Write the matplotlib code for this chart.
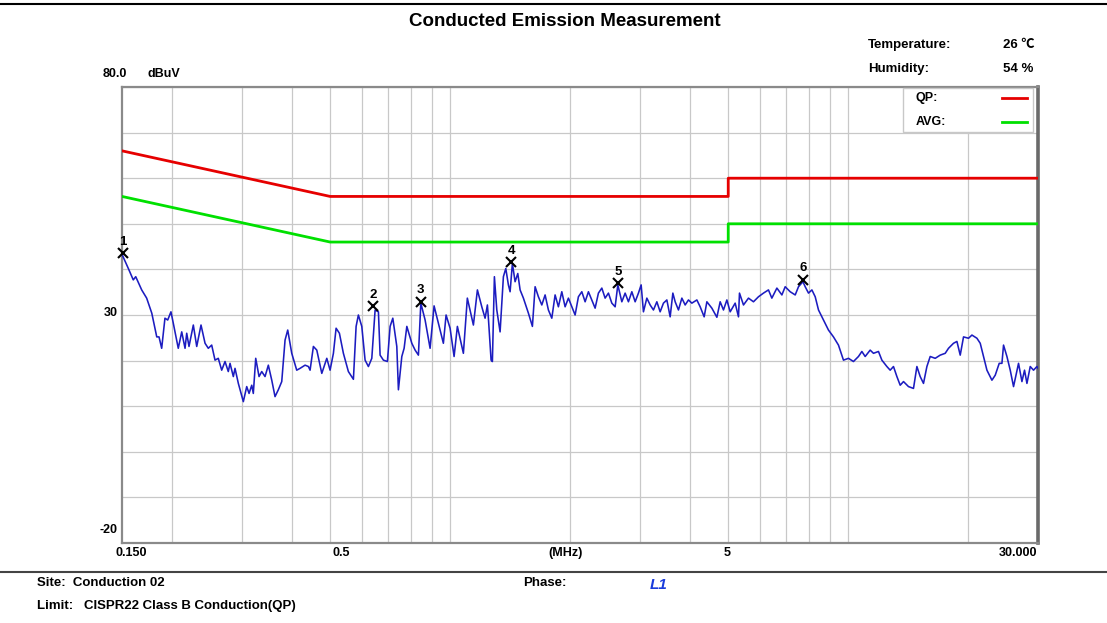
import numpy as np
import matplotlib
matplotlib.use("Agg")
import matplotlib.pyplot as plt
from matplotlib.lines import Line2D
from matplotlib.patches import Rectangle

plt.rcParams['font.family'] = ['Liberation Sans', 'DejaVu Sans']

# Limit lines (CISPR22 class B)
limit_freq = [0.15, 0.5, 5.0, 5.0, 30.0]
qp_limit = [66, 56, 56, 60, 60]
avg_limit = [56, 46, 46, 50, 50]

trace_freq = [
    0.150, 0.1556, 0.1601, 0.1624, 0.1681, 0.1730, 0.1782, 0.1834, 0.1858, 0.1887,
    0.1923, 0.1954, 0.1991, 0.2018, 0.2077, 0.2119, 0.2160, 0.2181, 0.2210, 0.2266,
    0.2311, 0.2369, 0.2425, 0.2471, 0.2520, 0.2569, 0.2618, 0.2670, 0.2722, 0.2774,
    0.2802, 0.2856, 0.2884, 0.2940, 0.3026, 0.3086, 0.3128, 0.3177, 0.3206, 0.3251,
    0.3314, 0.3366, 0.3431, 0.3497, 0.3567, 0.3635, 0.3705, 0.3779, 0.3852, 0.3912,
    0.4004, 0.4121, 0.4201, 0.4325, 0.4409, 0.4452, 0.4538, 0.4628, 0.4764, 0.4904,
    0.4998, 0.5095, 0.5175, 0.5275, 0.5398, 0.5556, 0.5720, 0.5810, 0.5887, 0.6004,
    0.6120, 0.6238, 0.6362, 0.6485, 0.6610, 0.6675, 0.6804, 0.6963, 0.7073, 0.7184,
    0.7352, 0.7421, 0.7568, 0.7670, 0.7791, 0.8019, 0.8174, 0.8331, 0.8448, 0.8660,
    0.8913, 0.9121, 0.9444, 0.9625, 0.9777, 1.0006, 1.0240, 1.0437, 1.0806, 1.1056,
    1.1450, 1.1719, 1.2020, 1.2251, 1.2416, 1.2488, 1.2684, 1.2780, 1.2929, 1.3110,
    1.3362, 1.3620, 1.3810, 1.4019, 1.4158, 1.4347, 1.4573, 1.4803, 1.5002, 1.5291,
    1.5740, 1.6108, 1.6362, 1.6677, 1.7008, 1.7336, 1.7670, 1.8021, 1.8368, 1.8722,
    1.9094, 1.9462, 1.9837, 2.0232, 2.0622, 2.1019, 2.1437, 2.1851, 2.2272, 2.2715,
    2.3152, 2.3598, 2.4068, 2.4531, 2.5005, 2.5501, 2.5993, 2.6402, 2.7020, 2.7541,
    2.8071, 2.8631, 2.9183, 2.9745, 3.0214, 3.0618, 3.1226, 3.1828, 3.2442, 3.3087,
    3.3725, 3.4375, 3.5058, 3.5734, 3.6297, 3.6783, 3.7492, 3.8237, 3.8974, 3.9725,
    4.0515, 4.1704, 4.2508, 4.3503, 4.4189, 4.5485, 4.6819, 4.7722, 4.8642, 4.9609,
    5.0564, 5.2048, 5.3054, 5.3363, 5.4612, 5.6214, 5.7860, 5.9558, 6.1306, 6.3096,
    6.4349, 6.6251, 6.8196, 6.9511, 7.1551, 7.3653, 7.5072, 7.7008, 7.8040, 7.9545,
    8.1125, 8.2689, 8.4283, 8.6752, 8.9280, 9.1903, 9.4599, 9.7375, 10.023, 10.317,
    10.620, 10.831, 11.040, 11.364, 11.583, 11.923, 12.160, 12.517, 12.758, 13.004,
    13.263, 13.519, 13.780, 14.184, 14.600, 14.890, 15.177, 15.470, 15.777, 16.082,
    16.554, 17.040, 17.540, 17.879, 18.403, 18.769, 19.131, 19.500, 20.072, 20.471,
    21.072, 21.478, 21.892, 22.327, 22.982, 23.425, 23.973, 24.351, 24.577, 25.065,
    25.548, 26.041, 26.805, 27.337, 27.752, 28.140, 28.683, 29.236, 29.816, 30.000,
]
trace_level = [
    43.3, 40.2, 37.7, 38.4, 35.5, 33.7, 30.4, 25.2, 25.2, 22.7,
    29.3, 28.9, 30.7, 28.2, 22.7, 26.3, 22.7, 26.0, 23.1, 27.8,
    23.1, 27.8, 23.8, 22.7, 23.4, 20.1, 20.5, 17.9, 19.8, 17.6,
    19.4, 16.5, 18.3, 15.0, 11.0, 14.3, 12.8, 14.6, 12.8, 20.5,
    16.5, 17.6, 16.5, 19.0, 15.7, 12.1, 13.6, 15.4, 24.5, 26.7,
    21.6, 17.9, 18.3, 19.0, 18.7, 17.9, 23.1, 22.3, 17.2, 20.5,
    17.9, 21.6, 27.1, 26.0, 21.6, 17.6, 15.9, 27.5, 30.0, 27.5,
    20.1, 18.7, 20.5, 31.1, 30.7, 21.2, 20.1, 19.8, 27.5, 29.3,
    23.1, 13.6, 20.9, 22.7, 27.5, 23.8, 22.3, 21.2, 32.6, 28.9,
    22.7, 32.0, 26.7, 23.8, 30.0, 27.1, 20.9, 27.5, 21.6, 33.7,
    27.8, 35.5, 31.8, 29.3, 32.2, 29.3, 20.1, 19.8, 38.4, 31.1,
    26.3, 38.4, 40.2, 36.6, 35.1, 41.3, 37.3, 39.1, 35.5, 33.7,
    30.4, 27.5, 36.2, 34.0, 32.2, 34.4, 31.1, 29.3, 34.4, 31.8,
    35.1, 31.8, 33.7, 31.8, 30.0, 34.0, 35.1, 32.9, 35.1, 33.3,
    31.5, 34.8, 35.9, 33.7, 34.8, 32.6, 31.8, 36.6, 32.9, 34.8,
    32.9, 35.1, 32.9, 34.8, 36.6, 30.7, 33.7, 32.2, 31.1, 32.9,
    30.7, 32.6, 33.3, 29.6, 34.8, 32.9, 31.1, 33.7, 32.2, 33.3,
    32.6, 33.3, 31.8, 29.6, 32.9, 31.5, 29.5, 32.9, 31.1, 33.3,
    30.7, 32.6, 29.6, 34.8, 32.2, 33.7, 32.9, 34.0, 34.8, 35.5,
    33.7, 35.9, 34.4, 36.2, 35.1, 34.4, 36.2, 37.3, 36.2, 34.8,
    35.5, 34.0, 31.1, 28.9, 26.7, 25.2, 23.4, 20.1, 20.5, 19.8,
    20.9, 22.0, 20.9, 22.3, 21.6, 22.0, 20.1, 18.7, 17.9, 18.7,
    16.5, 14.6, 15.4, 14.3, 13.9, 18.7, 16.5, 15.0, 18.7, 20.9,
    20.5, 21.2, 21.6, 22.7, 23.8, 24.2, 21.2, 25.2, 24.9, 25.6,
    24.9, 23.8, 20.9, 17.9, 15.7, 16.8, 19.4, 19.4, 23.4, 20.9,
    17.9, 14.3, 19.4, 15.4, 17.9, 15.0, 18.7, 17.9, 18.7, 18.3,
]

# Marked peaks
peak_no = ["1", "2", "3", "4", "5", "6"]
peak_freq = [0.1511, 0.642, 0.845, 1.424, 2.640, 7.701]
peak_level = [43.5, 31.9, 32.9, 41.6, 37.0, 37.7]

legend_names = ['QP:', 'AVG:']
legend_colors = ['#e60000', '#00e000']

W, H = 1107, 623
fig = plt.figure(figsize=(W / 100, H / 100), dpi=100)
fig.patch.set_facecolor('white')


def px(x, y):
    # pixel position -> figure fraction
    return x / W, 1 - y / H


ax = fig.add_axes([122 / W, 1 - 543 / H, (1038 - 122) / W, (543 - 87) / H])
ax.set_xscale('log')
ax.set_xlim(0.15, 30)
ax.set_ylim(-20, 80)
ax.set_yticks(np.arange(-20, 81, 10))
ax.set_xticks([1, 10])
ax.set_xticks([0.2, 0.3, 0.4, 0.5, 0.6, 0.7, 0.8, 0.9, 2, 3, 4, 5, 6, 7, 8, 9, 20], minor=True)
ax.grid(True, which='both', color='#c8c8c8', linewidth=0.9)
ax.set_axisbelow(True)
ax.tick_params(which='both', length=0, labelbottom=False, labelleft=False)
for s in ['left', 'bottom', 'top']:
    ax.spines[s].set_color('#8a8a8a')
    ax.spines[s].set_linewidth(1.6)
ax.spines['right'].set_color('#6a6a6a')
ax.spines['right'].set_linewidth(2.6)

ax.plot(trace_freq, trace_level, color='#1c1cc0', linewidth=1.15, zorder=3)
ax.plot(limit_freq, qp_limit, color=legend_colors[0], linewidth=2.0, zorder=4)
ax.plot(limit_freq, avg_limit, color=legend_colors[1], linewidth=2.0, zorder=4)

ax.plot(peak_freq, peak_level, linestyle='none', marker='x', color='black',
        markersize=7, markeredgewidth=1.5, zorder=5, clip_on=False)
for n, f, v in zip(peak_no, peak_freq, peak_level):
    ax.annotate(n, (f, v), xytext=(0, 4), textcoords='offset points',
                ha='center', va='bottom', fontsize=9.5, fontweight='bold')

# legend box drawn by hand (labels left, line samples right)
x0, y0 = px(903, 132)
x1, y1 = px(1033, 88)
fig.add_artist(Rectangle((x0, y0), x1 - x0, y1 - y0, facecolor='white',
                         edgecolor='#c8c8c8', linewidth=1.0, zorder=6))
for i, (name, c) in enumerate(zip(legend_names, legend_colors)):
    yy = 98 + i * 24
    fig.text(*px(916, yy), name, ha='left', va='center', fontsize=9,
             fontweight='bold', zorder=7)
    fig.add_artist(Line2D([1002 / W, 1027 / W], [1 - yy / H, 1 - yy / H],
                          color=c, linewidth=2, zorder=7))

# header and footer rules
fig.add_artist(Line2D([0, 1], [1 - 4 / H, 1 - 4 / H], color='black', linewidth=1.5))
fig.add_artist(Line2D([0, 1], [1 - 572 / H, 1 - 572 / H], color='#444444', linewidth=1.5))

fig.text(*px(565, 22), 'Conducted Emission Measurement', ha='center', va='center',
         fontsize=13.5, fontweight='bold')
fig.text(*px(868, 45), 'Temperature:', ha='left', va='center', fontsize=9.5, fontweight='bold')
fig.text(*px(1003, 45), '26 ℃', ha='left', va='center', fontsize=9.5, fontweight='bold',
         family=['Liberation Sans', 'Noto Sans CJK SC', 'DejaVu Sans'])
fig.text(*px(868, 69), 'Humidity:', ha='left', va='center', fontsize=9.5, fontweight='bold')
fig.text(*px(1003, 69), '54 %', ha='left', va='center', fontsize=9.5, fontweight='bold')

# axis labels placed like the instrument software does
fig.text(*px(127, 74), '80.0', ha='right', va='center', fontsize=9, fontweight='bold')
fig.text(*px(148, 74), 'dBuV', ha='left', va='center', fontsize=9, fontweight='bold')
fig.text(*px(118, 313), '30', ha='right', va='center', fontsize=9, fontweight='bold')
fig.text(*px(118, 530), '-20', ha='right', va='center', fontsize=9, fontweight='bold')
for lab, xc in [('0.150', 131), ('0.5', 341), ('(MHz)', 566), ('5', 727), ('30.000', 1018)]:
    fig.text(*px(xc, 553), lab, ha='center', va='center', fontsize=9, fontweight='bold')

fig.text(*px(37, 583), 'Site:  Conduction 02', ha='left', va='center', fontsize=9.5, fontweight='bold')
fig.text(*px(523, 583), 'Phase:', ha='left', va='center', fontsize=9.5, fontweight='bold')
fig.text(*px(650, 585), 'L1', ha='left', va='center', fontsize=11, fontweight='bold',
         style='italic', color='#1a3cdc')
fig.text(*px(37, 606), 'Limit:   CISPR22 Class B Conduction(QP)', ha='left', va='center',
         fontsize=9.5, fontweight='bold')

fig.savefig('out.png', dpi=100, facecolor='white')
